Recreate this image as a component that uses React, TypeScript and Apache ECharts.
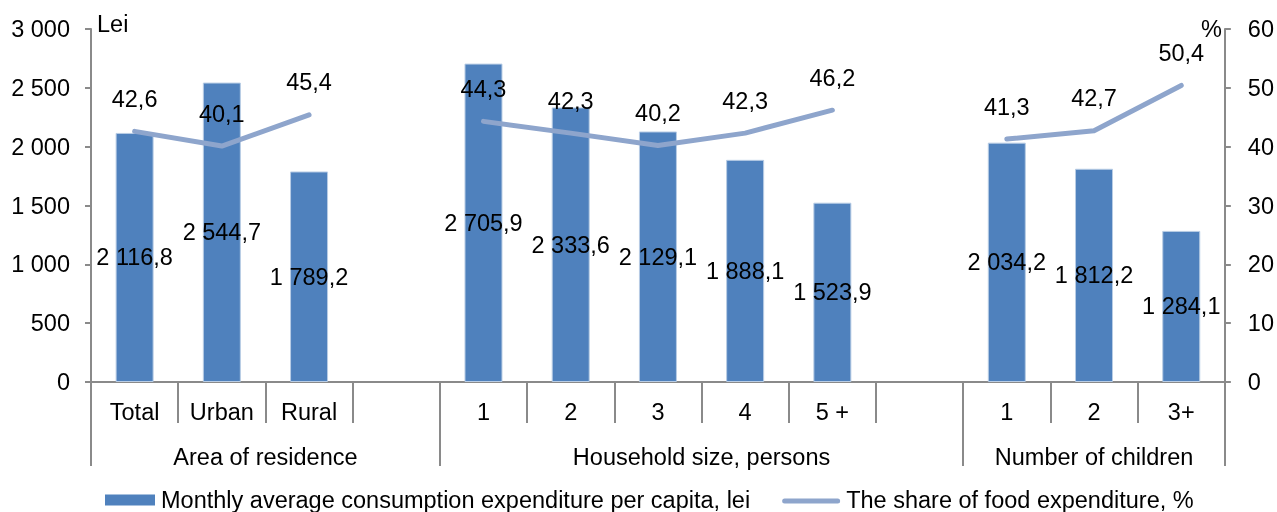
import React, { useEffect, useRef } from "react";
import * as echarts from "echarts";

const categories = ["Total", "Urban", "Rural", "", "1", "2", "3", "4", "5 +", "", "1", "2", "3+"];
const expenditure = [2116.8, 2544.7, 1789.2, null, 2705.9, 2333.6, 2129.1, 1888.1, 1523.9, null, 2034.2, 1812.2, 1284.1];
const foodShare = [42.6, 40.1, 45.4, null, 44.3, 42.3, 40.2, 42.3, 46.2, null, 41.3, 42.7, 50.4];
const groupNames = ["Area of residence", "Household size, persons", "Number of children"];
const groupBounds = [0, 4, 10, 13];
const seriesNames = ["Monthly average consumption expenditure per capita, lei", "The share of food expenditure, %"];

const FONT = "'Liberation Sans', Arial, sans-serif";
const FS = 23.5;
const AXIS_COLOR = "#8a8a8a";
const BAR_COLOR = "#4F81BD";
const LINE_COLOR = "#8EA5CC";

const BAR_ICON = "path://M0,0 L0,0 M8,0.5 H58 V11.5 H8 Z M58,12 L58,12";
const LINE_ICON = "path://M0,0 L0,0 M2.5,4.5 H55.5 A2.5,2.5 0 0 1 55.5,9.5 H2.5 A2.5,2.5 0 0 1 2.5,4.5 Z M58,12 L58,12";

function fmt(v: number, d: number): string {
  const [i, f] = v.toFixed(d).split(".");
  const ii = i.replace(/\B(?=(\d{3})+(?!\d))/g, " ");
  return f ? ii + "," + f : ii;
}

export default function App() {
  const ref = useRef<HTMLDivElement>(null);
  useEffect(() => {
    const chart = echarts.init(ref.current!, null, { renderer: "svg" });
    const groupCenters = groupNames.map((_, k) => (groupBounds[k] + groupBounds[k + 1]) / 2);
    const text = { color: "#000", fontFamily: FONT, fontSize: FS };
    chart.setOption({
      animation: false,
      textStyle: { fontFamily: FONT },
      grid: { left: 91, right: 52, top: 29, bottom: 130, containLabel: false },
      legend: {
        top: 483,
        left: 92,
        itemGap: 32,
        itemWidth: 58,
        itemHeight: 12,
        textStyle: { ...text, padding: [0, 0, 0, 1] },
        data: [
          { name: seriesNames[0], icon: BAR_ICON, itemStyle: { color: BAR_COLOR, borderWidth: 0 } },
          { name: seriesNames[1], icon: LINE_ICON, itemStyle: { color: LINE_COLOR, borderWidth: 0 } },
        ],
      },
      xAxis: [
        {
          type: "category",
          data: categories,
          position: "bottom",
          boundaryGap: true,
          axisLine: { show: true, lineStyle: { color: AXIS_COLOR, width: 2 } },
          axisTick: { show: true, interval: 0, length: 41, lineStyle: { color: AXIS_COLOR, width: 2 } },
          axisLabel: { interval: 0, margin: 18, ...text },
          splitLine: { show: false },
        },
        {
          type: "value",
          min: 0,
          max: categories.length,
          position: "bottom",
          offset: 0,
          axisLine: { show: false },
          axisTick: { show: true, customValues: groupBounds, length: 84, lineStyle: { color: AXIS_COLOR, width: 2 } },
          axisLabel: {
            customValues: groupCenters,
            margin: 63,
            ...text,
            formatter: (v: number) => {
              const k = groupCenters.findIndex((c) => Math.abs(c - v) < 1e-6);
              return k >= 0 ? groupNames[k] : "";
            },
          },
          splitLine: { show: false },
        },
      ],
      yAxis: [
        {
          type: "value",
          min: 0,
          max: 3000,
          interval: 500,
          position: "left",
          name: "Lei",
          nameLocation: "end",
          nameGap: 5,
          nameTextStyle: { ...text, align: "left", verticalAlign: "middle", padding: [0, 0, 0, 6] },
          axisLine: { show: true, lineStyle: { color: AXIS_COLOR, width: 2 } },
          axisTick: { show: true, length: 6, lineStyle: { color: AXIS_COLOR, width: 2 } },
          axisLabel: { margin: 21, ...text, formatter: (v: number) => fmt(v, 0) },
          splitLine: { show: false },
        },
        {
          type: "value",
          min: 0,
          max: 60,
          interval: 10,
          position: "right",
          name: "%",
          nameLocation: "end",
          nameGap: 0,
          nameTextStyle: { ...text, align: "right", verticalAlign: "middle", padding: [0, 3, 0, 0] },
          axisLine: { show: true, lineStyle: { color: AXIS_COLOR, width: 2 } },
          axisTick: { show: true, length: 6, lineStyle: { color: AXIS_COLOR, width: 2 } },
          axisLabel: { margin: 23, ...text },
          splitLine: { show: false },
        },
      ],
      series: [
        {
          name: seriesNames[0],
          type: "bar",
          xAxisIndex: 0,
          yAxisIndex: 0,
          data: expenditure,
          barWidth: 38,
          itemStyle: { color: BAR_COLOR, borderColor: "#B9CDE5", borderWidth: 1 },
          label: {
            show: true,
            position: "inside",
            ...text,
            formatter: (p: any) => (p.value == null ? "" : fmt(p.value, 1)),
          },
        },
        {
          name: seriesNames[1],
          type: "line",
          xAxisIndex: 0,
          yAxisIndex: 1,
          data: foodShare,
          connectNulls: false,
          symbol: "circle",
          symbolSize: 1,
          showSymbol: true,
          lineStyle: { color: LINE_COLOR, width: 5, cap: "round", join: "round" },
          itemStyle: { color: LINE_COLOR },
          label: {
            show: true,
            position: "top",
            distance: 20,
            ...text,
            formatter: (p: any) => (p.value == null ? "" : fmt(p.value, 1)),
          },
        },
      ],
    });
    return () => chart.dispose();
  }, []);
  return <div ref={ref} style={{ position: "fixed", left: 0, top: 0, width: 1277, height: 512 }} />;
}
